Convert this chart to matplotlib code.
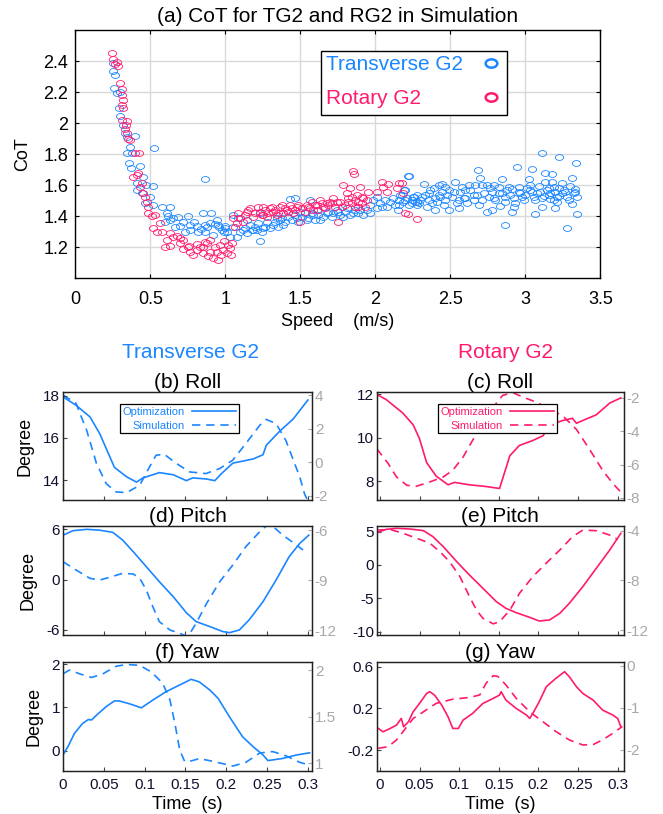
import matplotlib
matplotlib.use("Agg")
import matplotlib.pyplot as plt
from matplotlib.markers import MarkerStyle
from matplotlib.patches import Rectangle
from matplotlib.ticker import FuncFormatter
from matplotlib.transforms import Affine2D

plt.rcParams["font.family"] = ["Liberation Sans", "DejaVu Sans"]

BLUE = "#1a86ff"
PINK = "#ff1a6e"
NAVY = "#10102e"
GRAY = "#a8a8a8"

# ---- (a) CoT scatter: speed (m/s) vs CoT -----------------------------------
tg2_speed = [
    0.254, 0.249, 0.265, 0.258, 0.276, 0.298, 0.291, 0.298, 0.320, 0.331,
    0.342, 0.398, 0.365, 0.347, 0.376, 0.525, 0.360, 0.431, 0.369, 0.454,
    0.409, 0.471, 0.520, 0.409, 0.442, 0.498, 0.465, 0.520, 0.576, 0.631,
    0.609, 0.654, 0.687, 0.754, 0.854, 0.902, 0.720, 0.765, 0.809, 0.865,
    0.898, 0.942, 0.954, 0.976, 0.998, 1.009, 0.765, 0.820, 0.865, 0.920,
    0.865, 1.031, 0.598, 0.631, 0.665, 1.054, 1.087, 1.142, 1.231, 1.231,
    1.187, 1.142,
    1.076, 1.209, 1.253, 1.320, 1.365, 1.420, 1.431, 1.464, 1.498, 1.564,
    1.631, 1.587, 1.676, 1.709, 1.742, 1.798, 1.831, 1.887, 1.942, 1.964,
    1.987, 2.031, 2.076, 2.120, 2.153, 2.198, 2.227, 2.253, 2.276, 1.120,
    1.164, 1.276, 1.342, 1.387, 1.476, 1.531, 1.542, 1.609, 1.764, 1.865,
    2.009, 2.187,
    2.155, 2.199, 2.217, 2.188, 2.255, 2.277, 2.299, 2.322, 2.355, 2.377,
    2.388, 2.422, 2.444, 2.466, 2.488, 2.488, 2.533, 2.566, 2.588, 2.611,
    2.622, 2.655, 2.682, 2.699, 2.710, 2.744, 2.744, 2.777, 2.799, 2.833,
    2.844, 2.866, 2.877, 2.910, 2.922, 2.944, 2.955, 2.988, 3.022, 3.033,
    3.044, 3.066, 3.077, 3.110, 3.110, 3.133, 3.144, 3.166, 3.177, 3.188,
    3.199, 3.222, 3.222, 3.244, 3.277, 3.277, 3.299, 3.310, 3.310, 3.333,
    3.337, 3.344, 3.333, 2.155, 2.244, 2.333, 2.399, 2.444, 2.510, 2.555,
    2.600, 2.677, 2.755, 2.822, 2.866, 2.910, 2.966, 3.000, 3.055, 3.088,
    3.155, 3.188, 3.210, 3.244, 3.266, 2.555, 2.399, 2.288, 2.666, 2.710,
    2.788, 2.888, 3.133, 3.177, 3.210, 3.110, 2.777, 2.922, 2.355, 2.466,
    1.053, 1.098, 1.131, 1.176, 1.198, 1.220, 1.242, 1.265, 1.298, 1.331,
    1.354, 1.376, 1.398, 1.442, 1.465, 1.487, 1.509, 1.554, 1.576, 1.598,
    1.620, 1.654, 1.687, 1.720, 1.754, 1.787, 1.809, 1.854, 1.898, 1.920,
    1.965, 2.009, 2.042, 2.065, 2.098, 2.131, 2.165, 2.209, 2.242, 2.276,
    2.177, 2.222, 2.266, 2.311, 2.344, 2.366, 2.411, 2.433, 2.455, 2.477,
    2.522, 2.544, 2.577, 2.599, 2.633, 2.655, 2.688, 2.722, 2.766, 2.788,
    2.844, 2.866, 2.899, 2.933, 2.955, 2.977, 3.011, 3.044, 3.066, 3.099,
    3.122, 3.155, 3.166, 3.199, 3.222, 3.255, 3.288, 3.322, 3.344, 2.422,
    2.822, 3.033,
    0.700, 0.790, 0.840, 0.880, 0.930, 0.960, 0.990, 1.000, 0.730, 0.620,
]
tg2_cot = [
    2.387, 2.337, 2.312, 2.226, 2.197, 2.204, 2.097, 2.047, 1.989, 1.935,
    1.914, 1.918, 1.849, 1.806, 1.806, 1.838, 1.742, 1.725, 1.709, 1.656,
    1.613, 1.602, 1.595, 1.570, 1.548, 1.527, 1.484, 1.473, 1.462, 1.462,
    1.419, 1.387, 1.398, 1.402, 1.419, 1.423, 1.365, 1.344, 1.337, 1.344,
    1.355, 1.376, 1.344, 1.312, 1.322, 1.301, 1.312, 1.301, 1.301, 1.279,
    1.638, 1.269, 1.365, 1.376, 1.333, 1.408, 1.387, 1.376, 1.419, 1.241,
    1.312, 1.290,
    1.269, 1.312, 1.322, 1.344, 1.376, 1.397, 1.510, 1.516, 1.430, 1.505,
    1.376, 1.408, 1.419, 1.397, 1.441, 1.430, 1.408, 1.419, 1.441, 1.419,
    1.505, 1.484, 1.462, 1.516, 1.441, 1.570, 1.662, 1.527, 1.494, 1.312,
    1.344, 1.365, 1.387, 1.344, 1.387, 1.419, 1.376, 1.441, 1.408, 1.441,
    1.452, 1.494,
    1.473, 1.505, 1.660, 1.570, 1.522, 1.537, 1.505, 1.608, 1.548, 1.484,
    1.580, 1.537, 1.608, 1.505, 1.441, 1.570, 1.623, 1.559, 1.516, 1.484,
    1.602, 1.537, 1.699, 1.645, 1.505, 1.430, 1.602, 1.559, 1.505, 1.469,
    1.638, 1.342, 1.570, 1.426, 1.516, 1.720, 1.591, 1.505, 1.638, 1.570,
    1.703, 1.415, 1.548, 1.811, 1.462, 1.682, 1.570, 1.548, 1.673, 1.505,
    1.451, 1.785, 1.580, 1.548, 1.327, 1.527, 1.595, 1.477, 1.649, 1.559,
    1.746, 1.417, 1.578, 1.505, 1.484, 1.537, 1.516, 1.559, 1.527, 1.505,
    1.570, 1.537, 1.527, 1.553, 1.527, 1.574, 1.548, 1.537, 1.522, 1.595,
    1.537, 1.591, 1.522, 1.612, 1.559, 1.451, 1.441, 1.484, 1.602, 1.602,
    1.602, 1.591, 1.623, 1.623, 1.494, 1.516, 1.441, 1.462, 1.505, 1.591,
    1.333, 1.301, 1.322, 1.312, 1.333, 1.355, 1.301, 1.333, 1.322, 1.365,
    1.333, 1.387, 1.365, 1.376, 1.408, 1.365, 1.398, 1.387, 1.419, 1.376,
    1.408, 1.398, 1.430, 1.419, 1.430, 1.398, 1.452, 1.419, 1.441, 1.408,
    1.473, 1.527, 1.462, 1.505, 1.494, 1.473, 1.537, 1.516, 1.505, 1.473,
    1.537, 1.473, 1.494, 1.527, 1.462, 1.570, 1.494, 1.527, 1.473, 1.537,
    1.559, 1.484, 1.591, 1.516, 1.570, 1.505, 1.473, 1.548, 1.580, 1.516,
    1.548, 1.494, 1.537, 1.484, 1.559, 1.522, 1.580, 1.559, 1.505, 1.559,
    1.531, 1.580, 1.509, 1.559, 1.531, 1.570, 1.505, 1.548, 1.522, 1.602,
    1.591, 1.602,
    1.340, 1.360, 1.320, 1.330, 1.350, 1.330, 1.300, 1.340, 1.300, 1.400,
]

rg2_speed = [
    0.247, 0.254, 0.265, 0.282, 0.298, 0.314, 0.309, 0.314, 0.320, 0.309,
    0.347, 0.331, 0.347, 0.354, 0.398, 0.427, 0.387, 0.420, 0.431, 0.454,
    0.465, 0.487, 0.487, 0.509, 0.565, 0.520, 0.576, 0.631, 0.609, 0.598,
    0.631, 0.654, 0.698, 0.720, 0.754, 0.765, 0.787, 0.809, 0.831, 0.865,
    0.854, 0.887, 0.920, 0.954, 0.942, 0.965, 0.987, 1.009, 1.020, 0.898,
    0.698, 0.542, 0.531, 0.476, 0.442, 0.409, 0.365, 0.338, 0.320, 0.276,
    1.076, 1.142, 1.187, 1.254, 1.120,
    1.031, 1.042, 1.036, 1.098, 1.231, 1.276, 1.320, 1.365, 1.409, 1.431,
    1.476, 1.498, 1.542, 1.587, 1.631, 1.653, 1.698, 1.720, 1.753, 1.776,
    1.787, 1.831, 1.853, 1.860, 1.876, 1.865, 1.898, 1.909, 1.887, 1.954,
    2.009, 2.042, 2.053, 2.076, 2.087, 2.142, 2.176, 2.187, 2.220, 1.298,
    1.253, 1.164, 1.064, 1.342, 1.387, 1.453, 1.564, 1.609, 1.676, 1.742,
    1.809, 1.842, 1.920, 1.820, 2.155, 2.199, 2.277,
    1.053, 1.087, 1.131, 1.154, 1.198, 1.220, 1.242, 1.265, 1.287, 1.309,
    1.331, 1.354, 1.376, 1.398, 1.420, 1.442, 1.465, 1.487, 1.509, 1.531,
    1.554, 1.576, 1.598, 1.620, 1.642, 1.665, 1.687, 1.709, 1.731, 1.765,
    1.798, 1.820, 1.842, 1.865, 1.887, 1.909, 1.931, 1.942,
    0.720, 0.810, 0.850, 0.900, 0.930, 0.970, 0.990, 0.880, 0.760, 0.680,
]
rg2_cot = [
    2.456, 2.413, 2.383, 2.370, 2.262, 2.219, 2.183, 2.118, 2.097, 2.021,
    2.017, 1.961, 1.935, 1.899, 1.810, 1.806, 1.656, 1.677, 1.591, 1.548,
    1.527, 1.462, 1.419, 1.402, 1.355, 1.322, 1.301, 1.290, 1.247, 1.204,
    1.208, 1.269, 1.226, 1.187, 1.204, 1.172, 1.150, 1.183, 1.204, 1.236,
    1.161, 1.144, 1.129, 1.118, 1.172, 1.215, 1.183, 1.161, 1.215, 1.247,
    1.258, 1.301, 1.408, 1.494, 1.613, 1.666, 1.892, 1.989, 2.150, 2.398,
    1.355, 1.430, 1.398, 1.408, 1.365,
    1.193, 1.226, 1.150, 1.387, 1.430, 1.398, 1.430, 1.462, 1.441, 1.473,
    1.462, 1.365, 1.473, 1.441, 1.505, 1.462, 1.494, 1.516, 1.365, 1.462,
    1.602, 1.581, 1.694, 1.673, 1.537, 1.505, 1.591, 1.484, 1.462, 1.559,
    1.559, 1.623, 1.591, 1.559, 1.608, 1.581, 1.613, 1.553, 1.415, 1.452,
    1.462, 1.452, 1.333, 1.408, 1.419, 1.419, 1.452, 1.473, 1.484, 1.494,
    1.548, 1.527, 1.516, 1.494, 1.613, 1.419, 1.380,
    1.387, 1.419, 1.408, 1.441, 1.419, 1.462, 1.408, 1.441, 1.419, 1.462,
    1.441, 1.419, 1.473, 1.452, 1.430, 1.452, 1.441, 1.473, 1.452, 1.430,
    1.462, 1.494, 1.473, 1.441, 1.484, 1.452, 1.473, 1.484, 1.462, 1.494,
    1.473, 1.516, 1.484, 1.462, 1.494, 1.527, 1.462, 1.505,
    1.250, 1.220, 1.200, 1.170, 1.200, 1.150, 1.240, 1.230, 1.210, 1.270,
]

# ---- (b)-(g) Optimization (left axis) vs Simulation (right axis), degrees --
roll_tg2_opt_t = [0, 0.016, 0.033, 0.045, 0.063, 0.078, 0.09, 0.098, 0.118,
                  0.135, 0.151, 0.159, 0.175, 0.186, 0.194, 0.208, 0.233,
                  0.245, 0.249, 0.265, 0.282, 0.3]
roll_tg2_opt = [17.95, 17.55, 17.0, 16.2, 14.6, 14.15, 13.9, 14.1, 14.35,
                14.25, 13.97, 14.1, 14.05, 13.97, 14.3, 14.8, 15.0, 15.2,
                15.65, 16.3, 16.9, 17.8]
roll_tg2_sim_t = [0, 0.016, 0.029, 0.041, 0.053, 0.065, 0.078, 0.094, 0.106,
                  0.114, 0.124, 0.139, 0.155, 0.175, 0.192, 0.208, 0.224,
                  0.241, 0.249, 0.261, 0.273, 0.29, 0.296, 0.302]
roll_tg2_sim = [4.0, 3.5, 1.9, -0.07, -1.27, -1.76, -1.8, -1.36, -0.27, 0.42,
                0.48, -0.07, -0.57, -0.67, -0.37, 0.13, 1.12, 2.2, 2.55, 2.3,
                1.3, -0.87, -1.9, -2.5]

roll_rg2_opt_t = [-0.004, 0.008, 0.029, 0.042, 0.05, 0.059, 0.071, 0.086,
                  0.094, 0.113, 0.134, 0.151, 0.164, 0.176, 0.193, 0.206,
                  0.214, 0.231, 0.243, 0.248, 0.256, 0.273, 0.29, 0.304]
roll_rg2_opt = [12.0, 11.76, 11.14, 10.6, 9.96, 8.86, 8.24, 7.84, 7.95, 7.84,
                7.76, 7.67, 9.18, 9.65, 9.88, 10.1, 10.6, 10.8, 10.9, 10.67,
                10.8, 11.06, 11.6, 11.84]
roll_rg2_sim_t = [-0.004, 0.0105, 0.021, 0.034, 0.046, 0.063, 0.08, 0.092,
                  0.105, 0.117, 0.13, 0.143, 0.155, 0.168, 0.18, 0.197, 0.214,
                  0.231, 0.248, 0.264, 0.281, 0.294, 0.304]
roll_rg2_sim = [-5.05, -5.94, -6.74, -7.24, -7.3, -7.04, -6.74, -6.34, -5.55,
                -4.55, -3.55, -2.56, -1.86, -1.7, -1.96, -2.26, -2.66, -3.1,
                -3.9, -5.05, -6.34, -7.14, -7.64]

pitch_tg2_opt_t = [0, 0.012, 0.029, 0.045, 0.061, 0.073, 0.086, 0.102, 0.118,
                   0.135, 0.151, 0.163, 0.18, 0.196, 0.204, 0.216, 0.228,
                   0.245, 0.261, 0.277, 0.29, 0.301]
pitch_tg2_opt = [5.3, 5.84, 6.0, 5.9, 5.64, 4.73, 3.34, 1.55, -0.24, -2.03,
                 -3.93, -5.0, -5.6, -6.2, -6.32, -6.0, -4.8, -2.62, -0.04,
                 2.74, 4.33, 5.3]
pitch_tg2_sim_t = [0, 0.016, 0.033, 0.045, 0.057, 0.073, 0.086, 0.094, 0.102,
                   0.11, 0.118, 0.131, 0.143, 0.153, 0.163, 0.176, 0.192,
                   0.208, 0.224, 0.241, 0.253, 0.269, 0.286, 0.294]
pitch_tg2_sim = [-7.9, -8.4, -8.9, -9.0, -8.84, -8.6, -8.64, -8.9, -9.6,
                 -10.6, -11.5, -12.0, -12.2, -12.4, -11.6, -10.4, -9.1, -8.1,
                 -7.0, -6.1, -5.6, -6.3, -6.9, -7.2]

pitch_rg2_opt_t = [-0.004, 0.008, 0.021, 0.038, 0.055, 0.067, 0.08, 0.097,
                   0.113, 0.13, 0.147, 0.159, 0.172, 0.189, 0.201, 0.214,
                   0.227, 0.239, 0.256, 0.273, 0.29, 0.304]
pitch_rg2_opt = [4.85, 5.35, 5.5, 5.4, 5.15, 4.25, 2.75, 0.5, -1.5, -3.5,
                 -5.5, -6.5, -7.15, -7.85, -8.4, -8.25, -7.25, -5.75, -3.25,
                 -0.5, 2.25, 4.75]
pitch_rg2_sim_t = [-0.004, 0.013, 0.029, 0.046, 0.063, 0.076, 0.088, 0.101,
                   0.113, 0.122, 0.13, 0.143, 0.151, 0.164, 0.176, 0.193,
                   0.21, 0.227, 0.243, 0.256, 0.273, 0.29, 0.3]
pitch_rg2_sim = [-3.95, -3.9, -4.2, -4.6, -5.0, -5.7, -6.5, -7.7, -9.3,
                 -10.4, -11.06, -11.5, -11.33, -10.4, -9.05, -7.7, -6.6,
                 -5.56, -4.48, -3.95, -4.0, -4.35, -4.7]

yaw_tg2_opt_t = [0, 0.006, 0.014, 0.024, 0.031, 0.035, 0.041, 0.053, 0.063,
                 0.069, 0.082, 0.09, 0.096, 0.11, 0.126, 0.143, 0.157, 0.167,
                 0.18, 0.19, 0.204, 0.22, 0.233, 0.245, 0.251, 0.269, 0.286,
                 0.302]
yaw_tg2_opt = [-0.1, 0.09, 0.4, 0.63, 0.72, 0.71, 0.82, 1.02, 1.15, 1.15,
               1.08, 1.03, 0.99, 1.17, 1.36, 1.52, 1.65, 1.59, 1.4, 1.21,
               0.78, 0.32, 0.09, -0.1, -0.23, -0.18, -0.1, -0.05]
yaw_tg2_sim_t = [0, 0.008, 0.02, 0.035, 0.049, 0.065, 0.078, 0.094, 0.108,
                 0.122, 0.131, 0.137, 0.143, 0.149, 0.155, 0.167, 0.184,
                 0.208, 0.224, 0.241, 0.257, 0.273, 0.29, 0.298]
yaw_tg2_sim = [1.96, 2.0, 1.96, 1.92, 1.96, 2.04, 2.06, 2.05, 1.98, 1.86,
               1.68, 1.43, 1.14, 1.02, 1.02, 1.05, 1.02, 0.97, 1.01, 1.11,
               1.125, 1.08, 1.01, 0.99]

yaw_rg2_opt_t = [-0.002, 0.004, 0.013, 0.021, 0.027, 0.03, 0.036, 0.042,
                 0.05, 0.059, 0.063, 0.069, 0.078, 0.086, 0.092, 0.099,
                 0.105, 0.117, 0.13, 0.143, 0.151, 0.153, 0.159, 0.172,
                 0.185, 0.189, 0.193, 0.201, 0.21, 0.222, 0.233, 0.239,
                 0.248, 0.256, 0.269, 0.281, 0.294, 0.3, 0.304]
yaw_rg2_opt = [0.008, -0.024, 0.008, 0.04, 0.104, 0.024, 0.072, 0.168, 0.248,
               0.344, 0.36, 0.328, 0.232, 0.12, 0.008, 0.008, 0.088, 0.152,
               0.248, 0.296, 0.328, 0.36, 0.28, 0.2, 0.136, 0.104, 0.152,
               0.264, 0.408, 0.488, 0.552, 0.504, 0.408, 0.344, 0.28, 0.184,
               0.136, 0.104, 0.024]
yaw_rg2_sim_t = [-0.002, 0.0105, 0.021, 0.031, 0.042, 0.055, 0.071, 0.092,
                 0.113, 0.126, 0.134, 0.143, 0.149, 0.159, 0.172, 0.189,
                 0.206, 0.222, 0.239, 0.256, 0.269, 0.281, 0.294, 0.306]
yaw_rg2_sim = [-1.96, -1.92, -1.76, -1.52, -1.25, -1.09, -0.89, -0.79, -0.75,
               -0.69, -0.41, -0.23, -0.25, -0.45, -0.77, -1.09, -1.33, -1.56,
               -1.76, -1.88, -1.87, -1.76, -1.6, -1.44]

TIME_TICKS = [0, 0.05, 0.1, 0.15, 0.2, 0.25, 0.3]
GFMT = FuncFormatter(lambda v, _: f"{v:g}")

W, H = 663, 814


def _box(left, top, right, bottom):
    """Pixel box (from top-left) -> figure fraction rect."""
    return [left / W, 1 - bottom / H, (right - left) / W, (bottom - top) / H]


def _panel(rect, color, opt_t, opt, sim_t, sim, *, title, xlim, ylim, yticks,
           ylim2, yticks2, xlabels=False, ylabel=False, legend=None):
    ax = fig.add_axes(rect)
    ax2 = ax.twinx()
    ax.plot(opt_t, opt, color=color, lw=1.2, label="Optimization")
    ax2.plot(sim_t, sim, color=color, lw=1.2, dashes=(5, 3.5), label="Simulation")
    ax.set_xlim(*xlim)
    ax.set_ylim(*ylim)
    ax2.set_ylim(*ylim2)
    ax.set_yticks(yticks)
    ax2.set_yticks(yticks2)
    ax.set_xticks(TIME_TICKS)
    for a in (ax, ax2):
        a.yaxis.set_major_formatter(GFMT)
        a.xaxis.set_major_formatter(GFMT)
    ax.tick_params(axis="both", direction="in", length=3, width=0.8,
                   labelsize=11, labelcolor=NAVY, color="#444444", pad=2)
    ax.tick_params(axis="x", pad=5)
    ax2.tick_params(axis="y", direction="in", length=3, width=0.8,
                    labelsize=11, labelcolor=GRAY, color=GRAY, pad=2)
    if not xlabels:
        ax.tick_params(axis="x", labelbottom=False)
    else:
        ax.set_xlabel("Time  (s)", fontsize=13, labelpad=3)
    if ylabel:
        ax.set_ylabel("Degree", fontsize=13, labelpad=7)
    for a in (ax, ax2):
        for sp in a.spines.values():
            sp.set_linewidth(0.9)
            sp.set_color("#222222")
    ax.set_title(title, fontsize=15, pad=3)
    if legend is not None:
        h1 = ax.get_lines()[0]
        h2 = ax2.get_lines()[0]
        leg = ax.legend([h1, h2], ["Optimization", "Simulation"],
                        loc="upper left", bbox_to_anchor=legend,
                        fontsize=8, markerfirst=False, handlelength=4.0,
                        handletextpad=0.6, borderpad=0.25, labelspacing=0.35,
                        borderaxespad=0, fancybox=False, framealpha=1,
                        edgecolor="black")
        leg.get_frame().set_linewidth(0.9)
        for txt in leg.get_texts():
            txt.set_color(color)
        leg.set_zorder(10)
        ax.set_zorder(ax2.get_zorder() + 1)
        ax.patch.set_visible(False)
    return ax, ax2


fig = plt.figure(figsize=(W / 100, H / 100), dpi=100)

# ---- (a) scatter -----------------------------------------------------------
ax = fig.add_axes(_box(75.3, 30.3, 600.3, 278.3))
ell = MarkerStyle("o", fillstyle="none", transform=Affine2D().scale(1.4, 1.0))
ax.plot(tg2_speed, tg2_cot, ls="none", marker=ell, ms=4.2, mec=BLUE,
        mfc="none", mew=0.6, zorder=3)
ax.plot(rg2_speed, rg2_cot, ls="none", marker=ell, ms=4.2, mec=PINK,
        mfc="none", mew=0.6, zorder=3)
ax.set_xlim(0, 3.5)
ax.set_ylim(1.0, 2.6)
ax.set_xticks([0, 0.5, 1, 1.5, 2, 2.5, 3, 3.5])
ax.set_yticks([1.2, 1.4, 1.6, 1.8, 2.0, 2.2, 2.4])
ax.xaxis.set_major_formatter(GFMT)
ax.yaxis.set_major_formatter(GFMT)
ax.grid(True, color="#d9d9d9", lw=1.0, zorder=0)
ax.set_axisbelow(True)
ax.tick_params(direction="in", length=3, labelsize=13, top=True, right=True,
               pad=5)
ax.tick_params(axis="x", pad=9)
for sp in ax.spines.values():
    sp.set_linewidth(1.0)
ax.set_xlabel("Speed    (m/s)", fontsize=13, labelpad=4)
ax.set_ylabel("CoT", fontsize=13, labelpad=9)
ax.set_title("(a) CoT for TG2 and RG2 in Simulation", fontsize=15, pad=6)

# legend box: text left-aligned, markers on the right
ax.add_patch(Rectangle((0.468, 0.660), 0.354, 0.2565, transform=ax.transAxes,
                       facecolor="white", edgecolor="black", lw=1.0, zorder=8))
for yy, name, col in ((0.862, "Transverse G2", BLUE), (0.727, "Rotary G2", PINK)):
    ax.text(0.4775, yy, name, color=col, fontsize=15, va="center", ha="left",
            transform=ax.transAxes, zorder=9)
    ax.plot([0.791], [yy + 0.006], ls="none", marker=ell, ms=6.0, mec=col,
            mfc="none", mew=1.8, transform=ax.transAxes, zorder=9,
            clip_on=False)

# ---- column headers -------------------------------------------------------
fig.text(190 / W, 1 - 352 / H, "Transverse G2", color=BLUE, fontsize=15,
         ha="center", va="center")
fig.text(506 / W, 1 - 352 / H, "Rotary G2", color=PINK, fontsize=15,
         ha="center", va="center")

LX = (0, 0.305)
RX = (-0.004, 0.308)

_panel(_box(63, 392, 312, 500), BLUE, roll_tg2_opt_t, roll_tg2_opt,
       roll_tg2_sim_t, roll_tg2_sim, title="(b) Roll", xlim=LX,
       ylim=(13.05, 18.18), yticks=[14, 16, 18], ylim2=(-2.24, 4.18),
       yticks2=[-2, 0, 2, 4], ylabel=True, legend=(0.229, 0.889))
_panel(_box(376.7, 392, 624, 500), PINK, roll_rg2_opt_t, roll_rg2_opt,
       roll_rg2_sim_t, roll_rg2_sim, title="(c) Roll", xlim=RX,
       ylim=(7.14, 12.11), yticks=[8, 10, 12], ylim2=(-8.12, -1.66),
       yticks2=[-8, -6, -4, -2], legend=(0.248, 0.889))
_panel(_box(63, 526, 312, 635), BLUE, pitch_tg2_opt_t, pitch_tg2_opt,
       pitch_tg2_sim_t, pitch_tg2_sim, title="(d) Pitch", xlim=LX,
       ylim=(-6.6, 6.4), yticks=[-6, 0, 6], ylim2=(-12.3, -5.76),
       yticks2=[-12, -9, -6], ylabel=True)
_panel(_box(376.7, 526, 624, 635), PINK, pitch_rg2_opt_t, pitch_rg2_opt,
       pitch_rg2_sim_t, pitch_rg2_sim, title="(e) Pitch", xlim=RX,
       ylim=(-10.5, 5.85), yticks=[-10, -5, 0, 5], ylim2=(-12.4, -3.62),
       yticks2=[-12, -8, -4])
_panel(_box(63, 662, 312, 771), BLUE, yaw_tg2_opt_t, yaw_tg2_opt,
       yaw_tg2_sim_t, yaw_tg2_sim, title="(f) Yaw", xlim=LX,
       ylim=(-0.47, 2.05), yticks=[0, 1, 2], ylim2=(0.917, 2.086),
       yticks2=[1, 1.5, 2], ylabel=True, xlabels=True)
_panel(_box(376.7, 662, 624, 771), PINK, yaw_rg2_opt_t, yaw_rg2_opt,
       yaw_rg2_sim_t, yaw_rg2_sim, title="(g) Yaw", xlim=RX,
       ylim=(-0.40, 0.645), yticks=[-0.2, 0.2, 0.6], ylim2=(-2.5, 0.095),
       yticks2=[-2, -1, 0], xlabels=True)

fig.savefig("out.png", dpi=100)
